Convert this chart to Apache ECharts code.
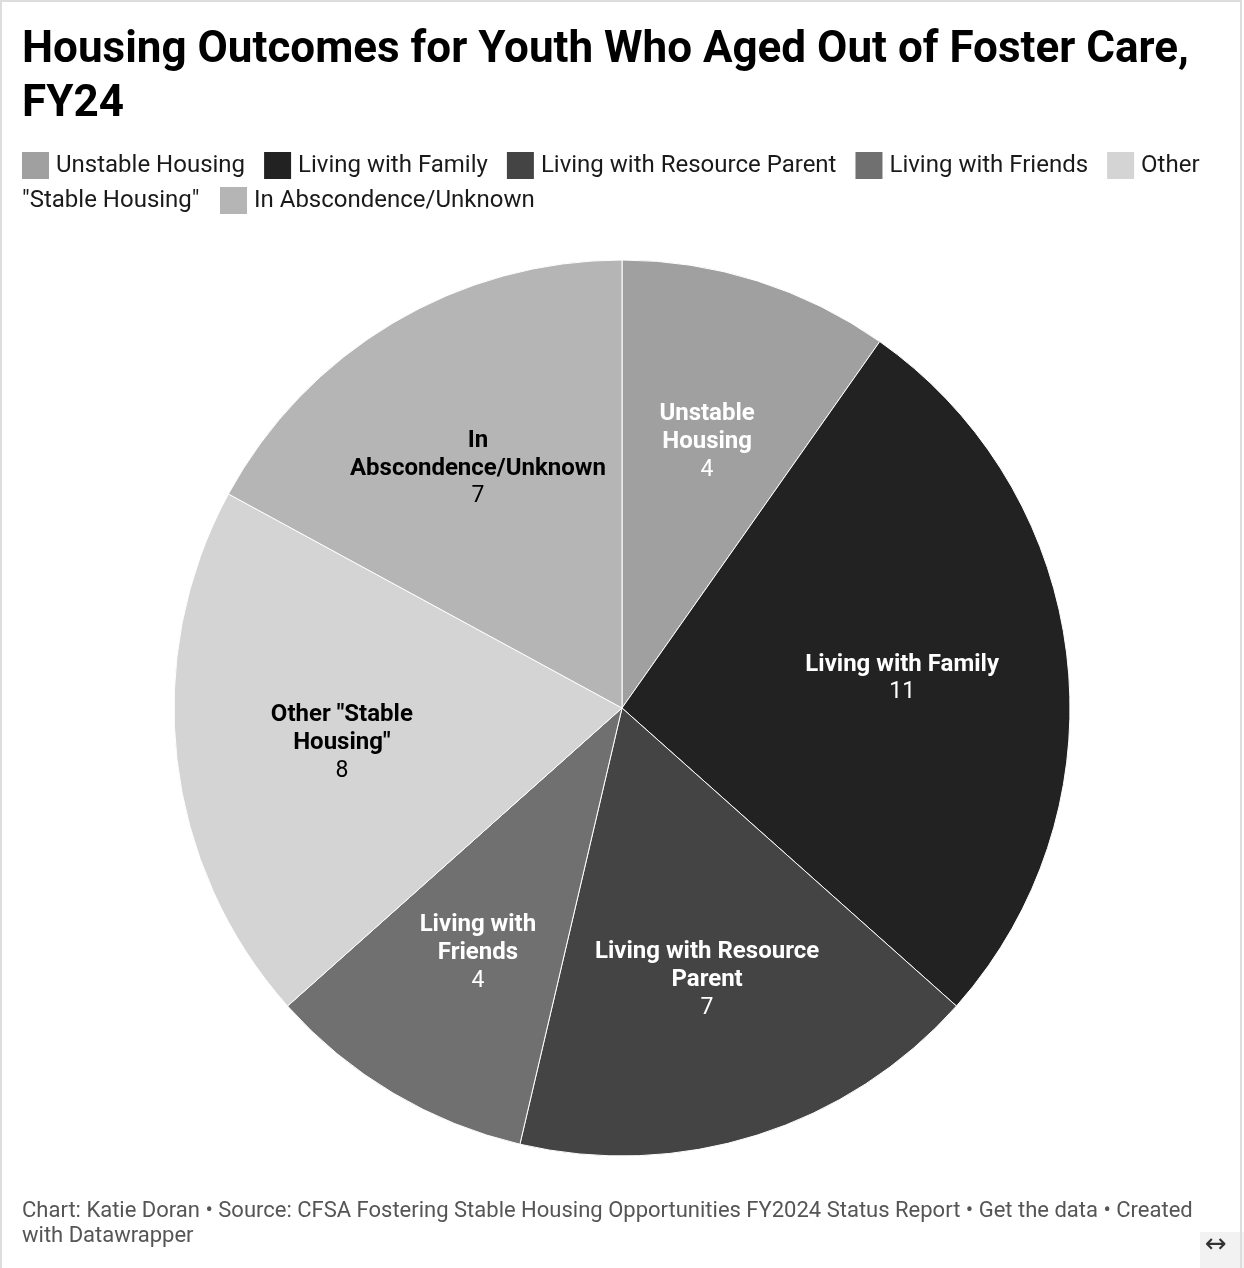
<!DOCTYPE html>
<html>
<head>
<meta charset="utf-8">
<script src="https://cdn.jsdelivr.net/npm/echarts@6/dist/echarts.min.js"></script>
<style>
html,body{margin:0;padding:0;background:#fff;}
#c{width:1244px;height:1268px;}
</style>
</head>
<body>
<div id="c"></div>
<script>
var categories = ['Unstable Housing', 'Living with Family', 'Living with Resource Parent', 'Living with Friends', 'Other "Stable Housing"', 'In Abscondence/Unknown'];
var values = [4, 11, 7, 4, 8, 7];
var labelTexts = ['Unstable\nHousing', 'Living with Family', 'Living with Resource\nParent', 'Living with\nFriends', 'Other "Stable\nHousing"', 'In\nAbscondence/Unknown'];
var colors = ['#a0a0a0', '#222222', '#444444', '#707070', '#d4d4d4', '#b5b5b5'];
var labelColors = ['#ffffff', '#ffffff', '#ffffff', '#ffffff', '#000000', '#000000'];

var titleText = 'Housing Outcomes for Youth Who Aged Out of Foster Care,\nFY24';
var footerText = 'Chart: Katie Doran \u2022 Source: CFSA Fostering Stable Housing Opportunities FY2024 Status Report \u2022 Get the data \u2022 Created\nwith Datawrapper';

var chart = echarts.init(document.getElementById('c'), null, {renderer: 'canvas'});

var mainData = categories.map(function (n, i) {
  return {name: n, value: values[i], itemStyle: {color: colors[i]}};
});
var labelData = categories.map(function (n, i) {
  return {
    name: n, value: values[i],
    label: {
      formatter: '{n|' + labelTexts[i] + '}\n{v|' + values[i] + '}',
      rich: {
        n: {fontFamily: 'Roboto', fontWeight: 'bold', fontSize: 24, lineHeight: 28, color: labelColors[i], align: 'center'},
        v: {fontFamily: 'Roboto', fontWeight: 'normal', fontSize: 23, lineHeight: 28, color: labelColors[i], align: 'center'}
      }
    }
  };
});

var legendText = {fontFamily: 'Roboto', fontSize: 24, color: '#1a1a1a', padding: [0, 0, 0, 2]};

var option = {
  animation: false,
  backgroundColor: '#ffffff',
  title: {
    text: titleText,
    left: 22, top: 24, padding: 0,
    textStyle: {fontFamily: 'Roboto', fontWeight: 'bold', fontSize: 44, lineHeight: 54, color: '#000000'}
  },
  legend: [{
    data: categories.slice(0, 5),
    left: 22, top: 152, width: 1230, padding: 0,
    orient: 'horizontal',
    icon: 'rect', itemWidth: 27, itemHeight: 27, itemGap: 19,
    itemStyle: {borderWidth: 0},
    selectedMode: false,
    formatter: function (n) { return n === 'Other "Stable Housing"' ? 'Other' : n; },
    textStyle: legendText
  }, {
    data: categories.slice(5),
    left: 220, top: 187, padding: 0,
    icon: 'rect', itemWidth: 27, itemHeight: 27,
    itemStyle: {borderWidth: 0},
    selectedMode: false,
    textStyle: legendText
  }],
  graphic: [
    {type: 'text', left: 22, top: 187, style: {text: '"Stable Housing"', fontFamily: 'Roboto', fontSize: 24, lineHeight: 28, fill: '#1a1a1a'}},
    {type: 'text', left: 22, top: 1199, style: {text: footerText, fontFamily: 'Roboto', fontSize: 22, lineHeight: 25, fill: '#555555'}},
    {type: 'rect', shape: {x: 1200, y: 1232, width: 44, height: 36}, style: {fill: '#f2f2f2'}},
    {type: 'text', left: 1205, top: 1232, style: {text: '\u2194', fontFamily: 'DejaVu Sans', fontSize: 26, fill: '#333333'}},
    {type: 'rect', shape: {x: 1, y: 1, width: 1240, height: 1270}, style: {fill: 'none', stroke: '#dddddd', lineWidth: 2}}
  ],
  series: [{
    type: 'pie',
    center: [622, 708],
    radius: [0, 448],
    startAngle: 90,
    clockwise: true,
    silent: true,
    label: {show: false},
    labelLine: {show: false},
    itemStyle: {borderColor: '#ffffff', borderWidth: 1},
    emphasis: {disabled: true},
    data: mainData
  }, {
    type: 'pie',
    center: [622, 708],
    radius: [110, 448],
    startAngle: 90,
    clockwise: true,
    silent: true,
    legendHoverLink: false,
    itemStyle: {color: 'rgba(0,0,0,0)', borderWidth: 0},
    label: {show: true, position: 'inside', offset: [0, 3]},
    labelLine: {show: false},
    emphasis: {disabled: true},
    data: labelData
  }]
};
chart.setOption(option);
</script>
</body>
</html>
